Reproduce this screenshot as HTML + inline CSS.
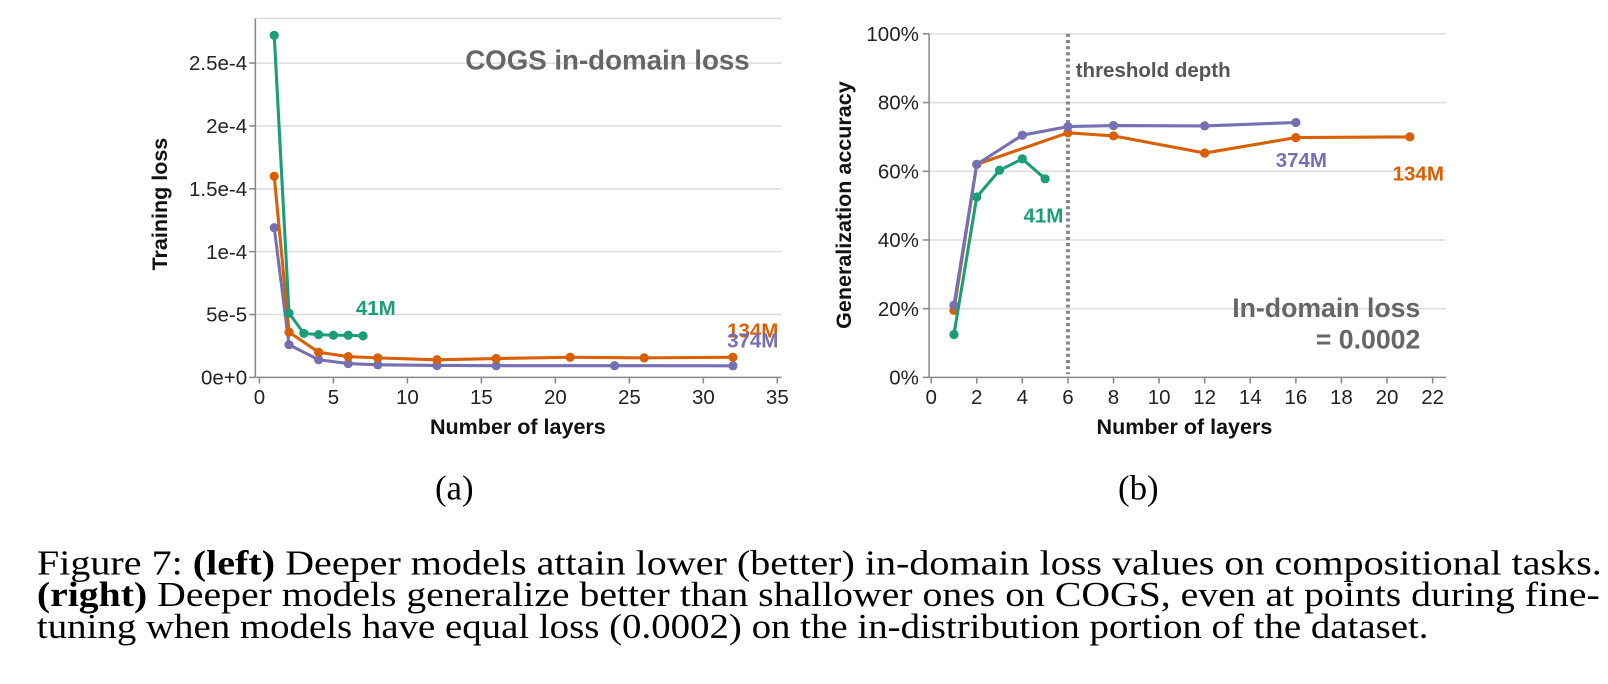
<!DOCTYPE html>
<html><head><meta charset="utf-8"><style>
html,body{margin:0;padding:0;background:#fff;width:1608px;height:684px;overflow:hidden}
svg{display:block}
.tick{font-family:"Liberation Sans",sans-serif;font-size:20px;fill:#222}
.ttl{font-family:"Liberation Sans",sans-serif;font-size:21px;font-weight:bold;fill:#111}
.cap{font-family:"Liberation Serif",serif;font-size:34px;fill:#000}
</style></head><body>
<svg id="fig" width="1608" height="684">
<g transform="scale(1.0255)">
<g id="left"></g>
<g id="right"></g>
<text class="cap" x="443" y="487" text-anchor="middle">(a)</text>
<text class="cap" x="1110" y="487" text-anchor="middle">(b)</text>
<text class="cap" x="36" y="560" textLength="1526" lengthAdjust="spacingAndGlyphs">Figure 7: <tspan font-weight="bold">(left)</tspan> Deeper models attain lower (better) in-domain loss values on compositional tasks.</text>
<text class="cap" x="36" y="591" textLength="1524" lengthAdjust="spacingAndGlyphs"><tspan font-weight="bold">(right)</tspan> Deeper models generalize better than shallower ones on COGS, even at points during fine-</text>
<text class="cap" x="36" y="622" textLength="1357" lengthAdjust="spacingAndGlyphs">tuning when models have equal loss (0.0002) on the in-distribution portion of the dataset.</text>
</g>
</svg>
<script>
// Left chart data
const lossTicks = [0, 5e-5, 1e-4, 1.5e-4, 2e-4, 2.5e-4];
const lossTickLabels = ["0e+0","5e-5","1e-4","1.5e-4","2e-4","2.5e-4"];
const leftXTicks = [0,5,10,15,20,25,30,35];
const g41x = [1,2,3,4,5,6,7];
const g41y = [2.72e-4,5.1e-5,3.5e-5,3.4e-5,3.35e-5,3.35e-5,3.3e-5];
const o134x = [1,2,4,6,8,12,16,21,26,32];
const o134y = [1.6e-4,3.6e-5,2.0e-5,1.65e-5,1.55e-5,1.4e-5,1.5e-5,1.6e-5,1.55e-5,1.6e-5];
const p374x = [1,2,4,6,8,12,16,24,32];
const p374y = [1.19e-4,2.6e-5,1.4e-5,1.1e-5,1.0e-5,9.5e-6,9.3e-6,9.3e-6,9.2e-6];
// Right chart data
const accTicks = [0,20,40,60,80,100];
const rightXTicks = [0,2,4,6,8,10,12,14,16,18,20,22];
const ra41x = [1,2,3,4,5];
const ra41y = [12.5,52.5,60.3,63.6,57.8];
const ra134x = [1,2,6,8,12,16,21];
const ra134y = [19.5,62,71.2,70.3,65.3,69.8,70];
const ra374x = [1,2,4,6,8,12,16];
const ra374y = [21,62,70.5,73,73.3,73.2,74.2];
const thresholdDepth = 6;

const NS="http://www.w3.org/2000/svg";
function mk(parent,tag,attrs,text){const e=document.createElementNS(NS,tag);for(const k in attrs)e.setAttribute(k,attrs[k]);if(text!==undefined)e.textContent=text;parent.appendChild(e);return e;}
const C={g:"#1b9e77",o:"#d95f02",p:"#7570b3"};

function series(g,xs,ys,sx,sy,color,name){
  const pts=xs.map((x,i)=>sx(x)+","+sy(ys[i])).join(" ");
  const pl=mk(g,"polyline",{points:pts,fill:"none",stroke:color,"stroke-width":3,"stroke-linejoin":"round"});
  
  
  xs.forEach((x,i)=>{
    const c=mk(g,"circle",{cx:sx(x),cy:sy(ys[i]),r:4.5,fill:color});
    
    
  });
}

// LEFT
(function(){
  const g=document.getElementById("left");
  const x0=253,x1=758,y0=368,y1=61.5;
  const sx=v=>x0+(x1-x0)*v/35;
  const sy=v=>y0-(y0-y1)*v/2.5e-4;
  const left=249,right=762,top=18;
  lossTicks.forEach((t,i)=>{
    const y=sy(t);
    if(t>0){const gl=mk(g,"line",{x1:left,x2:right,y1:y,y2:y,stroke:"#ddd","stroke-width":1.5});
      }
    mk(g,"line",{x1:left-6,x2:left,y1:y,y2:y,stroke:"#888","stroke-width":1.5});
    const tl=mk(g,"text",{class:"tick",x:left-8,y:y+7,"text-anchor":"end"},lossTickLabels[i]);
    
  });
  mk(g,"line",{x1:left,x2:right,y1:top,y2:top,stroke:"#ddd","stroke-width":1.5});
  mk(g,"line",{x1:left,x2:left,y1:top,y2:y0,stroke:"#888","stroke-width":1.5});
  mk(g,"line",{x1:left,x2:right,y1:y0,y2:y0,stroke:"#888","stroke-width":1.5});
  leftXTicks.forEach(t=>{
    const x=sx(t);
    mk(g,"line",{x1:x,x2:x,y1:y0,y2:y0+6,stroke:"#888","stroke-width":1.5});
    const tl=mk(g,"text",{class:"tick",x:x,y:y0+26,"text-anchor":"middle"},String(t));
    
  });
  const xt=mk(g,"text",{class:"ttl",x:505,y:423,"text-anchor":"middle"},"Number of layers");
  
  const yt=mk(g,"text",{class:"ttl",x:0,y:0,"text-anchor":"middle",transform:"translate(163,199) rotate(-90)"},"Training loss");
  
  const t=mk(g,"text",{x:731,y:68,"text-anchor":"end","font-family":"Liberation Sans, sans-serif","font-size":27,"font-weight":"bold",fill:"#666"},"COGS in-domain loss");
  
  series(g,p374x,p374y,sx,sy,C.p,"left-374m");
  series(g,o134x,o134y,sx,sy,C.o,"left-134m");
  series(g,g41x,g41y,sx,sy,C.g,"left-41m");
  const l1=mk(g,"text",{x:347,y:307,"font-family":"Liberation Sans, sans-serif","font-size":20,"font-weight":"bold",fill:C.g},"41M");
  
  const l2=mk(g,"text",{x:709,y:329,"font-family":"Liberation Sans, sans-serif","font-size":20,"font-weight":"bold",fill:C.o},"134M");
  
  const l3=mk(g,"text",{x:709,y:339,"font-family":"Liberation Sans, sans-serif","font-size":20,"font-weight":"bold",fill:C.p},"374M");
  
})();

// RIGHT
(function(){
  const g=document.getElementById("right");
  const x0=908,x1=1397,y0=368,y1=33;
  const sx=v=>x0+(x1-x0)*v/22;
  const sy=v=>y0-(y0-y1)*v/100;
  const left=906,right=1410;
  accTicks.forEach(t=>{
    const y=sy(t);
    if(t>0){const gl=mk(g,"line",{x1:left,x2:right,y1:y,y2:y,stroke:"#ddd","stroke-width":1.5});
      }
    mk(g,"line",{x1:left-6,x2:left,y1:y,y2:y,stroke:"#888","stroke-width":1.5});
    const tl=mk(g,"text",{class:"tick",x:left-10,y:y+7,"text-anchor":"end"},t+"%");
    
  });
  mk(g,"line",{x1:left,x2:left,y1:y1,y2:y0,stroke:"#888","stroke-width":1.5});
  mk(g,"line",{x1:left,x2:right,y1:y0,y2:y0,stroke:"#888","stroke-width":1.5});
  rightXTicks.forEach(t=>{
    const x=sx(t);
    mk(g,"line",{x1:x,x2:x,y1:y0,y2:y0+6,stroke:"#888","stroke-width":1.5});
    const tl=mk(g,"text",{class:"tick",x:x,y:y0+26,"text-anchor":"middle"},String(t));
    
  });
  const xt=mk(g,"text",{class:"ttl",x:1155,y:423,"text-anchor":"middle"},"Number of layers");
  
  const yt=mk(g,"text",{class:"ttl",x:0,y:0,"text-anchor":"middle",transform:"translate(830,200) rotate(-90)"},"Generalization accuracy");
  
  const th=mk(g,"line",{x1:sx(thresholdDepth),x2:sx(thresholdDepth),y1:y1,y2:y0-3,stroke:"#888","stroke-width":4,"stroke-dasharray":"3,3"});
  
  const tt=mk(g,"text",{x:1049,y:75,"font-family":"Liberation Sans, sans-serif","font-size":20,"font-weight":"bold",fill:"#555"},"threshold depth");
  
  const a1=mk(g,"text",{x:1385,y:309,"text-anchor":"end","font-family":"Liberation Sans, sans-serif","font-size":26,"font-weight":"bold",fill:"#666"},"In-domain loss");
  
  const a2=mk(g,"text",{x:1385,y:340,"text-anchor":"end","font-family":"Liberation Sans, sans-serif","font-size":26,"font-weight":"bold",fill:"#666"},"= 0.0002");
  
  series(g,ra134x,ra134y,sx,sy,C.o,"right-134m");
  series(g,ra374x,ra374y,sx,sy,C.p,"right-374m");
  series(g,ra41x,ra41y,sx,sy,C.g,"right-41m");
  const l1=mk(g,"text",{x:998,y:217,"font-family":"Liberation Sans, sans-serif","font-size":20,"font-weight":"bold",fill:C.g},"41M");
  
  const l2=mk(g,"text",{x:1244,y:163,"font-family":"Liberation Sans, sans-serif","font-size":20,"font-weight":"bold",fill:C.p},"374M");
  
  const l3=mk(g,"text",{x:1358,y:176,"font-family":"Liberation Sans, sans-serif","font-size":20,"font-weight":"bold",fill:C.o},"134M");
  
})();
</script>
</body></html>
